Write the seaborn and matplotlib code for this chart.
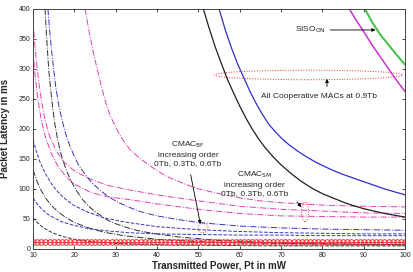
import numpy as np
import pandas as pd
import matplotlib.pyplot as plt
import seaborn as sns
from matplotlib.patches import Ellipse

sns.set_style("ticks")
plt.rcParams['font.family'] = ['Liberation Sans', 'DejaVu Sans']

# solid curves (0.9Tb family)
siso_on_p = [90.3, 92, 94, 96, 98, 100]
siso_on_lat = [400, 378, 357, 340, 323, 307]
mag_solid_p = [86.5, 88, 90, 92, 95, 97.5, 100]
mag_solid_lat = [400, 383, 362, 340, 310, 285, 262]
blue_solid_p = [55, 56.5, 58, 59.5, 61, 62.5, 64, 65.5, 67, 68.5, 70, 72, 74, 76, 78, 80,
                82.5, 85, 87.5, 90, 92.5, 95, 97.5, 100]
blue_solid_lat = [400, 365, 335, 308, 285, 262, 242, 224, 208, 196, 185, 173, 163, 154,
                  146, 139, 131, 124, 118, 112, 106, 100, 95, 90]
black_solid_p = [51.2, 52.5, 54, 55.5, 57, 58.5, 60, 61.5, 63, 64.5, 66, 68, 70, 72.5, 75,
                 77.5, 80, 82.5, 85, 87.5, 90, 92.5, 95, 97.5, 100]
black_solid_lat = [400, 370, 338, 310, 283, 260, 238, 218, 200, 184, 170, 154, 140, 125,
                   112, 101, 92, 85, 78, 72, 67, 63, 59, 56, 53]

# CMAC_SM magenta dash-dot
mag1_p = [22.6, 23.5, 24.5, 25.5, 26.5, 27.5, 28.6, 30, 31.5, 33.5, 36, 39, 42, 46, 50,
          55, 60, 65, 70, 80, 90, 100]
mag1_lat = [400, 365, 330, 300, 272, 246, 223, 203, 184, 165, 150, 135, 122, 110, 100,
            92, 85, 80, 77, 73, 71, 70]
mag2_p = [10, 10.5, 11, 11.5, 12, 12.9, 14, 15.5, 17.3, 20, 24, 28, 33.5, 40, 50, 60, 70,
          80, 90, 100]
mag2_lat = [380, 335, 300, 272, 248, 215, 188, 165, 146, 130, 116, 106, 98, 90, 80, 71,
            66, 63, 60, 59]
mag3_p = [10, 10.5, 11, 11.5, 12, 13, 14.5, 16, 18, 20, 24, 28, 33.5, 40, 50, 60, 70, 80,
          90, 100]
mag3_lat = [330, 290, 258, 235, 215, 186, 158, 138, 120, 108, 94, 87, 82, 75, 66, 59, 55,
            54, 53, 53]

# CMAC_BF blue
blue1_p = [13.6, 14, 14.5, 15, 15.5, 16.3, 17.3, 18.2, 19, 20, 21, 22.5, 24, 26, 28, 30.5,
           33, 36, 40, 45, 50, 60, 70, 80, 90, 100]
blue1_lat = [400, 365, 330, 298, 270, 236, 207, 185, 170, 154, 140, 125, 112, 99, 88, 78,
             70, 62, 55, 49, 44, 38, 35, 33, 32, 31]
blue2_p = [10, 10.5, 11, 11.5, 12, 13, 14, 14.5, 16, 18, 20, 23, 27, 32, 40, 50, 60, 70,
           80, 90, 100]
blue2_lat = [182, 170, 158, 148, 140, 125, 114, 108, 95, 82, 72, 62, 52, 45, 37, 32, 29,
             27, 26, 25, 25]
blue3_p = [10, 11, 12, 13.5, 15, 17, 20, 24, 28, 33, 40, 50, 60, 70, 80, 90, 100]
blue3_lat = [85, 75, 67, 58, 52, 45, 39, 33, 30, 27, 25, 24, 23, 23, 22, 22, 22]

# black
black1_p = [12.9, 13.2, 13.5, 13.8, 14.2, 14.7, 15.3, 15.9, 16.5, 17.2, 18, 19, 20, 21,
            22, 23.5, 25, 26.5, 28, 30, 32, 35, 38, 45, 55, 70, 85, 100]
black1_lat = [400, 363, 330, 298, 270, 238, 207, 184, 165, 148, 132, 116, 103, 92, 82,
              71, 62, 55, 48, 42, 37, 31, 27, 20, 14, 10, 8, 7]
black2_p = [10, 10.5, 11, 11.5, 12, 13, 14.5, 16, 18, 20, 23, 27, 32, 40, 50, 60, 80, 100]
black2_lat = [132, 122, 112, 104, 97, 85, 72, 62, 52, 44, 36, 28, 22, 16, 12, 10, 8, 7]
black3_p = [10, 11, 12, 13.5, 15, 17, 20, 24, 30, 40, 50, 70, 100]
black3_lat = [52, 44, 38, 31, 26, 21, 16, 12, 9, 7, 6, 5, 5]

# red circles line
red_p = list(range(10, 101))
red_lat = [12] * len(red_p)

fig = plt.figure(figsize=(4.13, 2.72), dpi=100)
ax = fig.add_axes([0.080, 0.085, 0.901, 0.882])

MAG = '#e040b8'
BLU = '#3535c0'
BLK = '#303030'

curves = [
    (mag1_p, mag1_lat, MAG, '-.'),
    (mag2_p, mag2_lat, MAG, '-.'),
    (mag3_p, mag3_lat, MAG, '-.'),
    (blue1_p, blue1_lat, BLU, '-.'),
    (blue2_p, blue2_lat, BLU, '--'),
    (blue3_p, blue3_lat, BLU, '--'),
    (black1_p, black1_lat, BLK, '-.'),
    (black2_p, black2_lat, BLK, '-.'),
    (black3_p, black3_lat, BLK, '--'),
]
for xs, ys, c, ls in curves:
    sns.lineplot(x=xs, y=ys, ax=ax, color=c, linestyle=ls, lw=0.7)

sns.lineplot(x=red_p, y=red_lat, ax=ax, color='#e83030', lw=0.6, marker='o',
             markersize=4, markerfacecolor='none', markeredgecolor='#e83030',
             markeredgewidth=0.7)

sns.lineplot(x=black_solid_p, y=black_solid_lat, ax=ax, color='#202020', lw=0.9)
sns.lineplot(x=blue_solid_p, y=blue_solid_lat, ax=ax, color='#3030c8', lw=0.9)
sns.lineplot(x=mag_solid_p, y=mag_solid_lat, ax=ax, color='#d030d0', lw=1.1)
sns.lineplot(x=siso_on_p, y=siso_on_lat, ax=ax, color='#40c040', lw=1.4)

ax.set_xlim(10, 100)
ax.set_ylim(0, 400)
ax.set_xticks(range(10, 101, 10))
ax.set_yticks(range(0, 401, 50))
ax.tick_params(direction='in', top=True, right=True, labelsize=5, length=2.5,
               width=0.6, pad=2)
for s in ax.spines.values():
    s.set_linewidth(0.7)
    s.set_color('#444444')

ax.set_xlabel('Transmitted Power, Pt in mW', fontsize=7, fontweight='bold', labelpad=1)
ax.set_ylabel('Packet Latency in ms', fontsize=7, fontweight='bold', labelpad=6)

arrow = dict(arrowstyle='-|>', color='black', lw=0.6, mutation_scale=5)

ax.annotate('', xy=(93.5, 365), xytext=(81.2, 365), arrowprops=arrow)
ax.text(73.4, 366, 'SISO$_{\\rm ON}$', fontsize=6, va='center', ha='left')

ax.add_patch(Ellipse((76.6, 290), 45.5, 16, fill=False, ec='#e83030', ls=':', lw=0.7))
ax.annotate('', xy=(81.1, 288), xytext=(81.1, 266), arrowprops=arrow)
ax.text(65.2, 254, 'All Cooperative MACs at 0.9Tb', fontsize=6, va='center', ha='left')

ax.text(47.5, 159, 'CMAC$_{\\rm BF}$\nincreasing order\n0Tb, 0.3Tb, 0.6Tb', fontsize=6,
        ha='center', va='center', linespacing=1.35)
ax.annotate('', xy=(50.6, 37), xytext=(48, 128), arrowprops=arrow)
ax.add_patch(Ellipse((51.1, 35), 2.4, 16, fill=False, ec='#e83030', ls=':', lw=0.7))

ax.text(63.5, 109, 'CMAC$_{\\rm SM}$\nincreasing order\n0Tb, 0.3Tb, 0.6Tb', fontsize=6,
        ha='center', va='center', linespacing=1.35)
ax.annotate('', xy=(75.3, 66), xytext=(73.4, 82), arrowprops=arrow)
ax.add_patch(Ellipse((75.8, 62), 1.7, 33, fill=False, ec='#e83030', ls=':', lw=0.7))

fig.savefig('out.png', dpi=100)
